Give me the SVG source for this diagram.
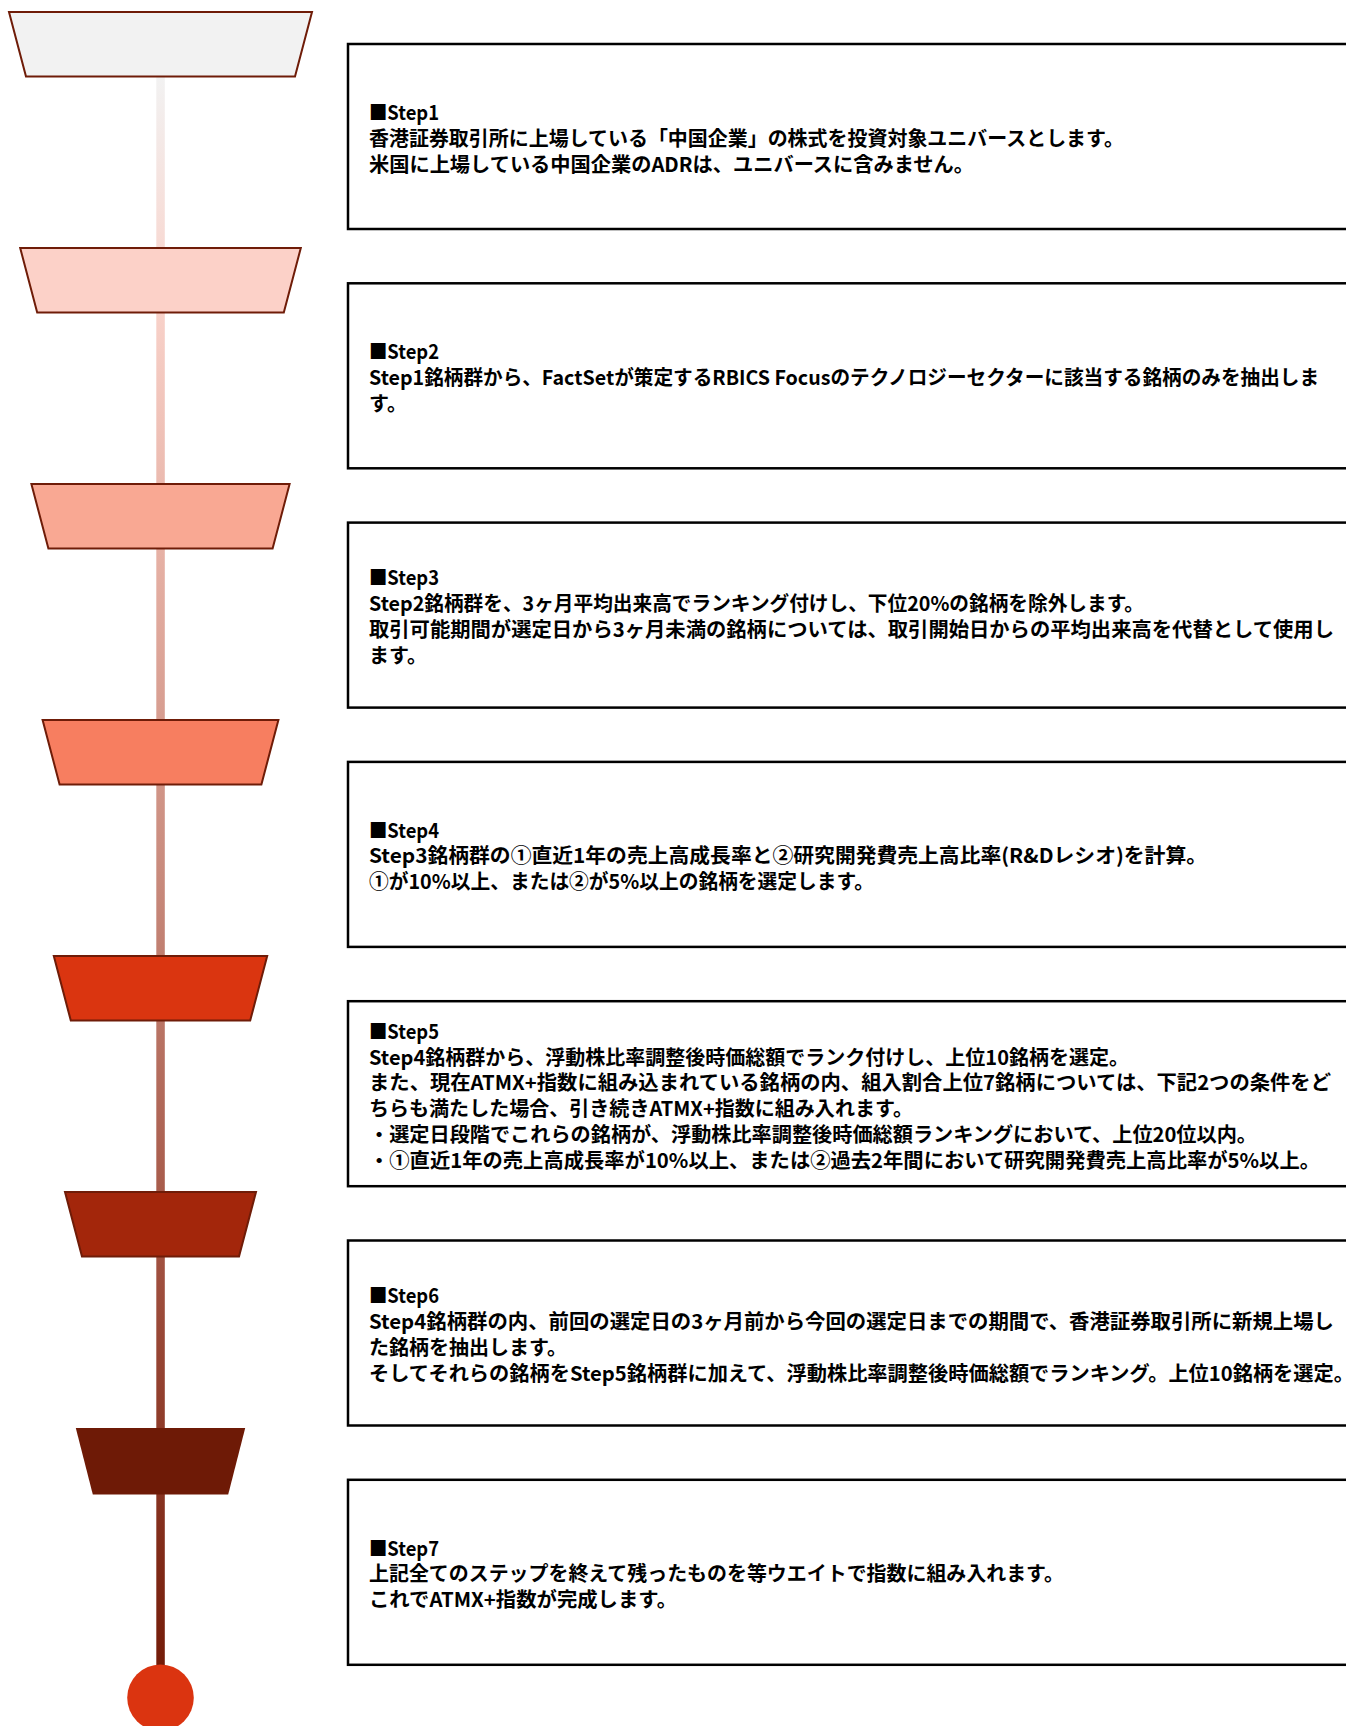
<svg xmlns="http://www.w3.org/2000/svg" width="1346" height="1726" viewBox="0 0 1346 1726">
<defs>
<linearGradient id="lineGrad" gradientUnits="userSpaceOnUse" x1="0" y1="76" x2="0" y2="1666">
<stop offset="0" stop-color="#f2f2f2"/>
<stop offset="0.14" stop-color="#f9d3cb"/>
<stop offset="0.3" stop-color="#e6b1a5"/>
<stop offset="0.5" stop-color="#c98b7d"/>
<stop offset="0.75" stop-color="#a0503f"/>
<stop offset="1" stop-color="#741c09"/>
</linearGradient>
<style>
.trap{stroke:#6f1c08;stroke-width:2;stroke-linejoin:miter}
.box{fill:#ffffff;stroke:#000000;stroke-width:2.5}
.txt{font-family:"Noto Sans CJK JP","Noto Sans CJK SC",sans-serif;font-size:20px;font-weight:bold;fill:#000000}
</style>
</defs>
<rect x="0" y="0" width="1346" height="1726" fill="#ffffff"/>

<g id="connectors">
<rect x="156.3" y="76" width="8.5" height="1592" fill="url(#lineGrad)"/>
</g>

<g id="trap1"><polygon class="trap" fill="#f2f2f2" points="9,12 312,12 295,76.5 26,76.5"/></g>
<g id="trap2"><polygon class="trap" fill="#fcd1c8" points="20.2,248 300.8,248 283.8,312.5 37.2,312.5"/></g>
<g id="trap3"><polygon class="trap" fill="#f9a893" points="31.4,484 289.6,484 272.6,548.5 48.4,548.5"/></g>
<g id="trap4"><polygon class="trap" fill="#f77e60" points="42.6,720 278.4,720 261.4,784.5 59.6,784.5"/></g>
<g id="trap5"><polygon class="trap" fill="#da3510" points="53.8,956 267.2,956 250.2,1020.5 70.8,1020.5"/></g>
<g id="trap6"><polygon class="trap" fill="#a3260b" points="65,1192 256,1192 239,1256.5 82,1256.5"/></g>
<g id="trap7"><polygon fill="#6e1a06" points="75.8,1428 245.2,1428 228.2,1494.5 92.8,1494.5"/></g>

<g id="end"><circle cx="160.5" cy="1697.7" r="33.3" fill="#db3410"/></g>

<g id="step1">
<rect class="box" x="348" y="44" width="1010" height="185"/>
<text class="txt" x="369" y="120" textLength="70" lengthAdjust="spacingAndGlyphs">■Step1</text>
<text class="txt" x="369" y="146" textLength="755" lengthAdjust="spacingAndGlyphs">香港証券取引所に上場している「中国企業」の株式を投資対象ユニバースとします。</text>
<text class="txt" x="369" y="172" textLength="605" lengthAdjust="spacingAndGlyphs">米国に上場している中国企業のADRは、ユニバースに含みません。</text>
</g>

<g id="step2">
<rect class="box" x="348" y="283.3" width="1010" height="185"/>
<text class="txt" x="369" y="359" textLength="70" lengthAdjust="spacingAndGlyphs">■Step2</text>
<text class="txt" x="369" y="385" textLength="950" lengthAdjust="spacingAndGlyphs">Step1銘柄群から、FactSetが策定するRBICS Focusのテクノロジーセクターに該当する銘柄のみを抽出しま</text>
<text class="txt" x="369" y="411">す。</text>
</g>

<g id="step3">
<rect class="box" x="348" y="522.6" width="1010" height="185"/>
<text class="txt" x="369" y="585.4" textLength="70" lengthAdjust="spacingAndGlyphs">■Step3</text>
<text class="txt" x="369" y="611.2" textLength="775" lengthAdjust="spacingAndGlyphs">Step2銘柄群を、3ヶ月平均出来高でランキング付けし、下位20%の銘柄を除外します。</text>
<text class="txt" x="369" y="637" textLength="965" lengthAdjust="spacingAndGlyphs">取引可能期間が選定日から3ヶ月未満の銘柄については、取引開始日からの平均出来高を代替として使用し</text>
<text class="txt" x="369" y="662.8">ます。</text>
</g>

<g id="step4">
<rect class="box" x="348" y="761.9" width="1010" height="185"/>
<text class="txt" x="369" y="837.6" textLength="70" lengthAdjust="spacingAndGlyphs">■Step4</text>
<text class="txt" x="369" y="863.4" textLength="838" lengthAdjust="spacingAndGlyphs">Step3銘柄群の①直近1年の売上高成長率と②研究開発費売上高比率(R&amp;Dレシオ)を計算。</text>
<text class="txt" x="369" y="889.2" textLength="505" lengthAdjust="spacingAndGlyphs">①が10%以上、または②が5%以上の銘柄を選定します。</text>
</g>

<g id="step5">
<rect class="box" x="348" y="1001.2" width="1010" height="185"/>
<text class="txt" x="369" y="1038.7" textLength="70" lengthAdjust="spacingAndGlyphs">■Step5</text>
<text class="txt" x="369" y="1064.5" textLength="760" lengthAdjust="spacingAndGlyphs">Step4銘柄群から、浮動株比率調整後時価総額でランク付けし、上位10銘柄を選定。</text>
<text class="txt" x="369" y="1090.3" textLength="962" lengthAdjust="spacingAndGlyphs">また、現在ATMX+指数に組み込まれている銘柄の内、組入割合上位7銘柄については、下記2つの条件をど</text>
<text class="txt" x="369" y="1116.1" textLength="544" lengthAdjust="spacingAndGlyphs">ちらも満たした場合、引き続きATMX+指数に組み入れます。</text>
<text class="txt" x="369" y="1141.9" textLength="888" lengthAdjust="spacingAndGlyphs">・選定日段階でこれらの銘柄が、浮動株比率調整後時価総額ランキングにおいて、上位20位以内。</text>
<text class="txt" x="369" y="1167.7" textLength="951" lengthAdjust="spacingAndGlyphs">・①直近1年の売上高成長率が10%以上、または②過去2年間において研究開発費売上高比率が5%以上。</text>
</g>

<g id="step6">
<rect class="box" x="348" y="1240.5" width="1010" height="185"/>
<text class="txt" x="369" y="1303.3" textLength="70" lengthAdjust="spacingAndGlyphs">■Step6</text>
<text class="txt" x="369" y="1329.1" textLength="965" lengthAdjust="spacingAndGlyphs">Step4銘柄群の内、前回の選定日の3ヶ月前から今回の選定日までの期間で、香港証券取引所に新規上場し</text>
<text class="txt" x="369" y="1354.9">た銘柄を抽出します。</text>
<text class="txt" x="369" y="1380.7" textLength="985" lengthAdjust="spacingAndGlyphs">そしてそれらの銘柄をStep5銘柄群に加えて、浮動株比率調整後時価総額でランキング。上位10銘柄を選定。</text>
</g>

<g id="step7">
<rect class="box" x="348" y="1479.8" width="1010" height="185"/>
<text class="txt" x="369" y="1555.5" textLength="70" lengthAdjust="spacingAndGlyphs">■Step7</text>
<text class="txt" x="369" y="1581.3" textLength="695" lengthAdjust="spacingAndGlyphs">上記全てのステップを終えて残ったものを等ウエイトで指数に組み入れます。</text>
<text class="txt" x="369" y="1607.1" textLength="308" lengthAdjust="spacingAndGlyphs">これでATMX+指数が完成します。</text>
</g>
</svg>
